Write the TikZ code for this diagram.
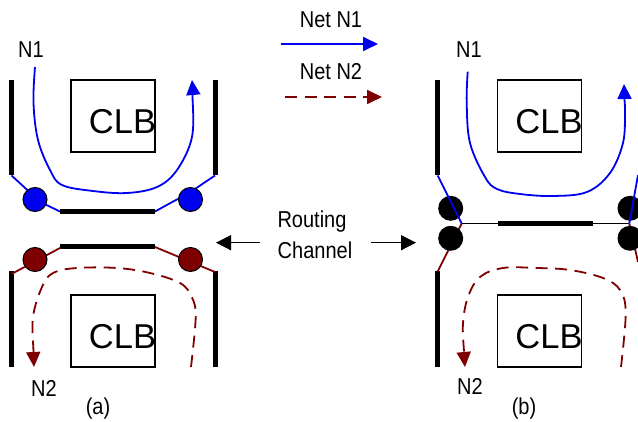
\documentclass[tikz,border=0pt]{standalone}
\usepackage{fontspec}
\setmainfont{Liberation Sans}
\usetikzlibrary{arrows.meta}
\definecolor{netred}{HTML}{7F0000}
\definecolor{netblue}{HTML}{0000F0}
\tikzset{
  seg/.style={line width=5pt,black},
  clbbox/.style={draw=black,line width=1.4pt,minimum width=84pt,minimum height=72pt,inner sep=0pt},
  clbtext/.style={font=\fontsize{34.5}{36}\selectfont,inner sep=0pt,text=black},
  lbl/.style={font=\fontsize{23}{26}\selectfont,inner sep=0pt,xscale=.87,text=black},
  wire/.style={line width=1.8pt},
  bluenet/.style={wire,netblue,-{Triangle[length=15pt,width=14pt]}},
  rednet/.style={wire,netred,dash pattern=on 12pt off 7.5pt,-{Triangle[length=15pt,width=14pt]}},
  swb/.style={circle,draw=black,line width=1pt,fill=netblue,minimum size=24pt,inner sep=0pt},
  swr/.style={circle,draw=black,line width=1pt,fill=netred,minimum size=24pt,inner sep=0pt},
  swk/.style={circle,fill=black,minimum size=25pt,inner sep=0pt},
  callout/.style={line width=1.6pt,-{Triangle[length=15pt,width=15pt]}}
}
\begin{document}
\begin{tikzpicture}[x=1pt,y=-1pt]
\useasboundingbox (0,0) rectangle (638,422);
\clip (0,0) rectangle (638,422);
% ---- (a) ----
\draw[seg] (11.5,80) -- (11.5,175.5);
\draw[seg] (215,80) -- (215,175.5);
\draw[seg] (11.5,271.5) -- (11.5,367);
\draw[seg] (215,271.5) -- (215,367);
\draw[seg] (60,211.5) -- (155,211.5);
\draw[seg] (60,247) -- (155,247);
\node[clbbox] (clbA) at (113,116) {};
\node[clbbox] (clbC) at (113,331) {};
\node[clbtext] at (122.5,122) {CLB};
\node[clbtext] at (122.5,337) {CLB};
\draw[wire,netblue] (11.5,175.5) -- (35,197) (35,199.5) -- (60,211.5);
\draw[wire,netblue] (155,211.5) -- (190.5,192) -- (215,175.5);
\draw[wire,netred] (11.5,274) -- (60,248);
\draw[wire,netred] (155,247) -- (215,272);
\node[swb] (a1) at (35,199.5) {};
\node[swb] (a2) at (190.5,199.5) {};
\node[swr] (a3) at (35,259.5) {};
\node[swr] (a4) at (190.5,259.5) {};
\draw[bluenet] plot[smooth,tension=.6] coordinates {(35,67) (33.5,103) (38,140) (50,170) (62,185) (93,191) (127,193) (157,187) (177,170) (192,137) (192.5,95) (192,80)};
\draw[rednet] plot[smooth,tension=.6] coordinates {(191,367) (195.7,317) (191.7,297) (180,283) (150,273) (117,268) (77,268) (53,273) (42,287) (33,317) (33.5,352) (34,367)};
\node[lbl] (n1a) at (31,50) {N1};
\node[lbl] (n2a) at (44,388) {N2};
\node[lbl] (capa) at (98,409) {(a)};
% ---- legend ----
\node[lbl] (leg1) at (331,20) {Net N1};
\node[lbl] (leg2) at (331,72) {Net N2};
\coordinate (l1s) at (281,44); \coordinate (l1e) at (378,44);
\coordinate (l2s) at (285,97); \coordinate (l2e) at (382,97);
\draw[bluenet] (l1s) -- (l1e);
\draw[rednet] (l2s) -- (l2e);
% ---- routing channel ----
\node[lbl] (rt) at (312,222) {Routing};
\node[lbl] (ch) at (315,250) {Channel};
\coordinate (cl) at (216,242.7); \coordinate (cr) at (416,242.7);
\coordinate (cls) at (260,242.7); \coordinate (crs) at (371,242.7);
\draw[callout] (cls) -- (cl);
\draw[callout] (crs) -- (cr);
% ---- (b) ----
\draw[seg] (437.7,80) -- (437.7,175.5);
\draw[seg] (437.7,271.5) -- (437.7,367);
\draw[seg] (498,223.5) -- (593,223.5);
\draw[line width=1.4pt] (461.7,223.5) -- (629.3,223.5);
\node[clbbox] (clbB) at (539.4,116) {};
\node[clbbox] (clbD) at (539.4,331) {};
\node[clbtext] at (549,122) {CLB};
\node[clbtext] at (549,337) {CLB};
\draw[wire,netred] (461.7,223.5) -- (437.7,271.5);
\draw[wire,netred] (629.3,223.5) -- (638,262);
\node[swk] (b1) at (450.7,208.3) {};
\node[swk] (b2) at (450.7,238.3) {};
\node[swk] (b3) at (630,208.3) {};
\node[swk] (b4) at (630,238.3) {};
\draw[wire,netblue] (437.7,175.5) -- (461.7,223.5);
\draw[wire,netblue] (638,175) -- (629.3,223.5);
\draw[bluenet] plot[smooth,tension=.6] coordinates {(467.7,71.7) (466.7,103) (470,143) (485,177) (497,189) (520,194) (553,196) (587,192) (610,173) (623,143) (625,113) (624.5,99) (624,84)};
\draw[rednet] plot[smooth,tension=.6] coordinates {(621,367) (625.7,313) (620,290) (603,278) (570,270) (537,268) (503,268) (480,277) (468,297) (463,323) (464,352) (465,367)};
\node[lbl] (n1b) at (469,50) {N1};
\node[lbl] (n2b) at (470,386) {N2};
\node[lbl] (capb) at (524,409) {(b)};
\end{tikzpicture}
\end{document}
